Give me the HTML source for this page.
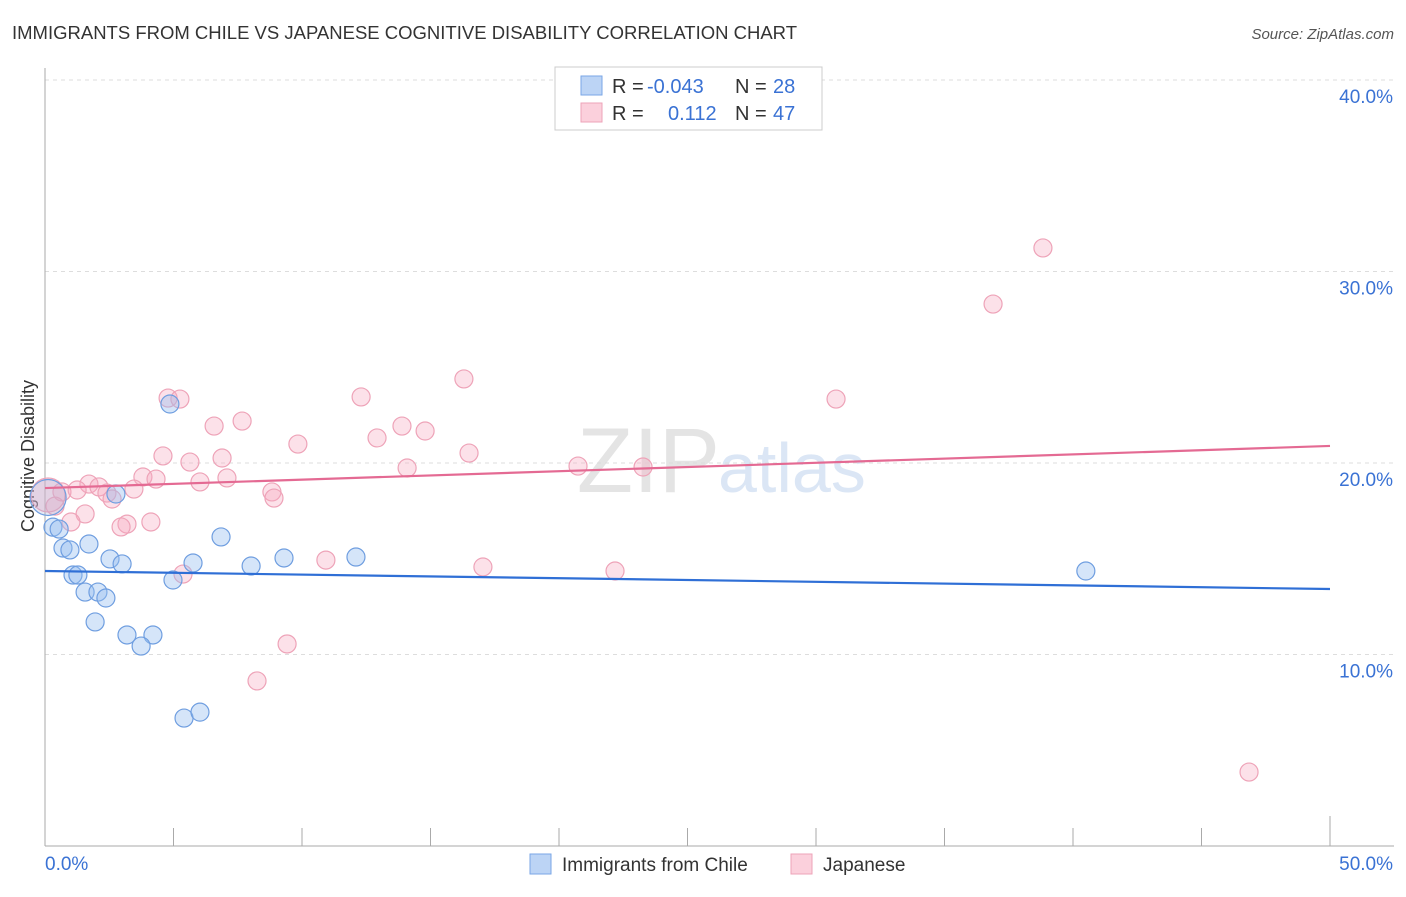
<!DOCTYPE html>
<html><head><meta charset="utf-8"><style>
body{margin:0;background:#fff;font-family:"Liberation Sans",sans-serif;}
svg text{font-family:"Liberation Sans",sans-serif;}
</style></head><body>
<svg id="c" width="1406" height="892">
<text x="12" y="39" font-size="18.5" fill="#333">IMMIGRANTS FROM CHILE VS JAPANESE COGNITIVE DISABILITY CORRELATION CHART</text>
<text x="1394" y="39" font-size="15" fill="#555" font-style="italic" text-anchor="end">Source: ZipAtlas.com</text>
<text x="34" y="456" font-size="18" fill="#333" text-anchor="middle" transform="rotate(-90 34 456)">Cognitive Disability</text>
<text x="720" y="492" font-size="92" fill="#e4e4e4" text-anchor="end" font-family="Liberation Serif">ZIP</text>
<text x="718" y="492" font-size="70" fill="#dbe6f5">atlas</text>
<g id="grid"></g><g id="pts"></g><g id="lines"></g>
<g>
<rect x="555" y="67" width="267" height="63" fill="#fff" stroke="#ccc"/>
<rect x="581" y="76" width="21" height="19" fill="#bcd4f5" stroke="#7aa6e6"/>
<rect x="581" y="103" width="21" height="19" fill="#fbd0dc" stroke="#eea3b8"/>
<text y="93" font-size="20" fill="#333"><tspan x="612">R =</tspan><tspan x="647" fill="#3a72d4">-0.043</tspan><tspan x="735">N =</tspan><tspan x="773" fill="#3a72d4">28</tspan></text>
<text y="120" font-size="20" fill="#333"><tspan x="612">R =</tspan><tspan x="668" fill="#3a72d4">0.112</tspan><tspan x="735">N =</tspan><tspan x="773" fill="#3a72d4">47</tspan></text>
</g>
<g>
<rect x="530" y="854" width="21" height="20" fill="#bcd4f5" stroke="#7aa6e6"/>
<text x="562" y="871" font-size="19" fill="#333">Immigrants from Chile</text>
<rect x="791" y="854" width="21" height="20" fill="#fbd0dc" stroke="#eea3b8"/>
<text x="823" y="871" font-size="19" fill="#333">Japanese</text>
</g>
</svg>
<script>
const yTicks=[10,20,30,40];
const yTickLabels=["10.0%","20.0%","30.0%","40.0%"];
const xTickLabels=["0.0%","50.0%"];
const chileX=[4.86,2.76,0.31,0.55,0.70,0.97,1.71,2.53,3.00,6.85,5.76,8.02,9.30,12.1,40.5,1.09,1.28,4.98,1.56,2.06,2.37,1.95,3.19,4.20,3.74,5.41,6.03,0.12];
const chileY=[23.08,18.38,16.65,16.55,15.56,15.46,15.77,14.99,14.73,16.14,14.78,14.62,15.04,15.09,14.36,14.15,14.15,13.89,13.26,13.26,12.95,11.70,11.02,11.02,10.44,6.68,6.99,18.2];
const chileSize=[1,1,1,1,1,1,1,1,1,1,1,1,1,1,1,1,1,1,1,1,1,1,1,1,1,1,1,2];
const japX=[38.83,36.89,46.85,30.78,16.30,12.30,4.79,5.25,7.67,6.58,13.89,14.79,12.92,9.84,16.50,4.59,6.89,5.64,14.09,20.74,23.27,3.81,4.32,7.08,6.03,1.71,2.10,0.66,1.25,2.41,3.46,8.83,8.91,2.61,0.39,1.56,1.01,3.19,2.96,4.12,0.12,10.93,17.04,22.18,5.37,9.42,8.25];
const japY=[31.23,28.30,3.86,23.34,24.39,23.45,23.39,23.34,22.19,21.93,21.93,21.67,21.31,20.99,20.52,20.37,20.26,20.05,19.74,19.84,19.79,19.27,19.16,19.22,19.01,18.90,18.75,18.49,18.59,18.43,18.64,18.49,18.17,18.12,17.75,17.34,16.92,16.81,16.66,16.92,18.33,14.93,14.57,14.36,14.20,10.55,8.62];
const chileTrend=[14.36,13.42];
const japTrend=[18.69,20.89];
const X0=45,X1=1330,Y0=846,PY=19.15;
const sx=v=>X0+(v/50)*(X1-X0), sy=v=>Y0-v*PY;
const NS="http://www.w3.org/2000/svg";
function mk(t,a,p){const e=document.createElementNS(NS,t);for(const k in a)e.setAttribute(k,a[k]);p.appendChild(e);return e;}
const grid=document.getElementById('grid');
yTicks.forEach((t,i)=>{
 const l=mk('line',{x1:X0,x2:1394,y1:sy(t),y2:sy(t),stroke:'#ddd','stroke-dasharray':'4 4'},grid);
 
 
 const tx=mk('text',{x:1393,y:sy(t)+23,'font-size':19,fill:'#3a72d4','text-anchor':'end'},grid);
 tx.textContent=yTickLabels[i];
 
 
});
const ax=mk('line',{x1:X0,x2:X0,y1:68,y2:Y0,stroke:'#aaa'},grid);


const bx=mk('line',{x1:X0,x2:1394,y1:Y0,y2:Y0,stroke:'#aaa'},grid);


for(let i=1;i<=10;i++){const t=mk('line',{x1:sx(i*5),x2:sx(i*5),y1:Y0,y2:Y0-(i==10?30:18),stroke:'#aaa'},grid);
 
 }
[[0,'start',45],[50,'end',1393]].forEach((d,i)=>{const t=mk('text',{x:d[2],y:870,'font-size':19,fill:'#3a72d4','text-anchor':d[1]},grid);t.textContent=xTickLabels[i];
 
 });
const pts=document.getElementById('pts');
japX.forEach((x,i)=>{const c=mk('circle',{cx:sx(x),cy:sy(japY[i]),r:(i==40?17:9),fill:'rgba(246,170,192,0.35)',stroke:'#eea3b8','stroke-width':1.2},pts);
 
 });
chileX.forEach((x,i)=>{const c=mk('circle',{cx:sx(x),cy:sy(chileY[i]),r:9*chileSize[i],fill:(chileSize[i]>1?'rgba(170,180,220,0.3)':'rgba(150,190,240,0.4)'),stroke:'#6f9ee0','stroke-width':1.2},pts);
 
 });
const lines=document.getElementById('lines');
const l1=mk('line',{x1:sx(0),x2:sx(50),y1:sy(chileTrend[0]),y2:sy(chileTrend[1]),stroke:'#2f6fd6','stroke-width':2.2},lines);


const l2=mk('line',{x1:sx(0),x2:sx(50),y1:sy(japTrend[0]),y2:sy(japTrend[1]),stroke:'#e46a93','stroke-width':2.2},lines);


</script>
</body></html>
